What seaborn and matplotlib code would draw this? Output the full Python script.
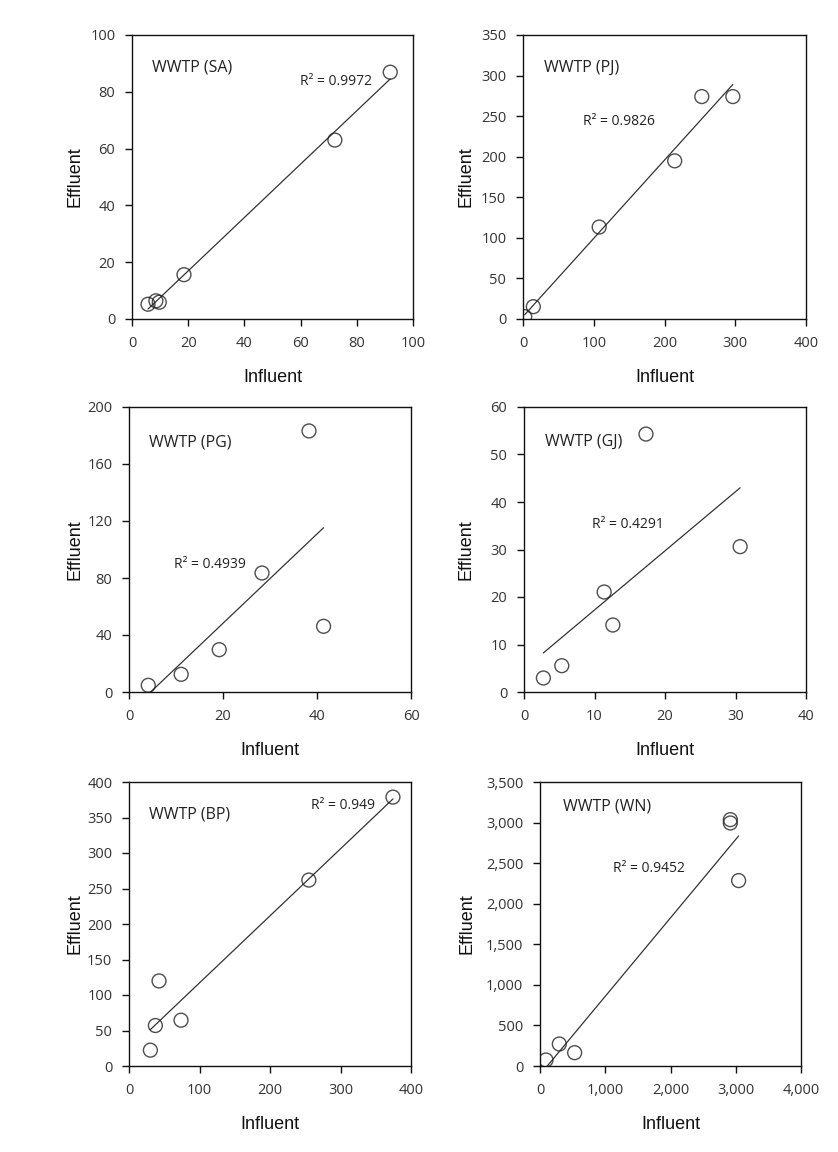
import numpy as np
import pandas as pd
import seaborn as sns
import matplotlib
matplotlib.use("Agg")
import matplotlib.pyplot as plt
from matplotlib.ticker import FuncFormatter, MultipleLocator

# ---------------- data ----------------
sa_inf = [5.7, 8.5, 9.7, 18.5, 72.2, 91.9]
sa_eff = [5.2, 6.4, 5.9, 15.6, 63.0, 86.9]

pj_inf = [2.4, 14.6, 107.7, 214.4, 252.7, 296.6]
pj_eff = [2.9, 15.2, 113.3, 194.9, 274.1, 274.1]

pg_inf = [4.1, 11.1, 19.2, 28.3, 38.3, 41.4]
pg_eff = [4.7, 12.4, 29.7, 83.5, 183.2, 46.1]

gj_inf = [2.75, 5.36, 11.37, 12.6, 17.3, 30.66]
gj_eff = [2.95, 5.54, 21.05, 14.1, 54.3, 30.6]

bp_inf = [30.3, 37.4, 42.6, 73.8, 255.1, 374.4]
bp_eff = [22.3, 57.0, 119.8, 64.5, 261.9, 378.7]

wn_inf = [92, 296, 531, 2917, 2917, 3044]
wn_eff = [74, 271, 164, 3036, 2995, 2285]

plant_names = ["WWTP (SA)", "WWTP (PJ)", "WWTP (PG)", "WWTP (GJ)", "WWTP (BP)", "WWTP (WN)"]
r2_labels = ["R\u00b2 = 0.9972", "R\u00b2 = 0.9826", "R\u00b2 = 0.4939",
             "R\u00b2 = 0.4291", "R\u00b2 = 0.949", "R\u00b2 = 0.9452"]
x_limits = [(0, 100), (0, 400), (0, 60), (0, 40), (0, 400), (0, 4000)]
y_limits = [(0, 100), (0, 350), (0, 200), (0, 60), (0, 400), (0, 3500)]
x_steps = [20, 100, 20, 10, 100, 1000]
y_steps = [20, 50, 40, 10, 50, 500]

influents = [sa_inf, pj_inf, pg_inf, gj_inf, bp_inf, wn_inf]
effluents = [sa_eff, pj_eff, pg_eff, gj_eff, bp_eff, wn_eff]

# ---------------- layout (figure fractions) ----------------
W, H = 838, 1152
boxes_px = [  # left, top, right, bottom in pixels
    (132, 35, 413, 319), (523, 35, 806, 319),
    (129, 407, 411, 692), (524, 407, 806, 692),
    (129, 782, 411, 1066), (540, 782, 801, 1066),
]
title_pos = [(0.071, 0.884), (0.074, 0.884), (0.071, 0.877),
             (0.074, 0.877), (0.071, 0.884), (0.088, 0.912)]
r2_pos = [(0.598, 0.838), (0.212, 0.694), (0.160, 0.446),
          (0.241, 0.589), (0.645, 0.919), (0.280, 0.697)]
ylab_x = [-0.174, -0.170, -0.163, -0.174, -0.163, -0.249]

sns.set_style("ticks")
plt.rcParams["font.family"] = ["Open Sans", "DejaVu Sans"]

fig = plt.figure(figsize=(W / 100, H / 100), dpi=100)
tick_col = "#333333"

for i in range(6):
    l, t, r, b = boxes_px[i]
    ax = fig.add_axes([l / W, 1 - b / H, (r - l) / W, (b - t) / H])
    df = pd.DataFrame({"Influent": influents[i], "Effluent": effluents[i]})
    sns.regplot(data=df, x="Influent", y="Effluent", ax=ax, ci=None, truncate=True,
                scatter_kws=dict(s=100, facecolors="none", edgecolors="#222222",
                                 linewidths=1.0, zorder=3),
                line_kws=dict(color="#333333", lw=0.9, zorder=2))
    ax.set_xlim(*x_limits[i])
    ax.set_ylim(*y_limits[i])
    ax.xaxis.set_major_locator(MultipleLocator(x_steps[i]))
    ax.yaxis.set_major_locator(MultipleLocator(y_steps[i]))
    if i == 5:
        fmt = FuncFormatter(lambda v, p: f"{v:,.0f}")
        ax.xaxis.set_major_formatter(fmt)
        ax.yaxis.set_major_formatter(fmt)
    for sp in ax.spines.values():
        sp.set_visible(True)
        sp.set_color("#111111")
        sp.set_linewidth(1.0)
    ax.tick_params(direction="out", length=5, width=1.0, color="#111111",
                   labelsize=10.5, labelcolor=tick_col, pad=7)
    ax.set_xlabel("Influent", fontsize=13, family=["Liberation Sans"], color="#111111")
    ax.set_ylabel("Effluent", fontsize=13, family=["Liberation Sans"], color="#111111")
    ax.xaxis.set_label_coords(0.5, -0.175)
    ax.yaxis.set_label_coords(ylab_x[i], 0.5)
    ax.text(title_pos[i][0], title_pos[i][1], plant_names[i], transform=ax.transAxes,
            fontsize=11.5, color="#222222", ha="left", va="center")
    ax.text(r2_pos[i][0], r2_pos[i][1], r2_labels[i], transform=ax.transAxes,
            fontsize=10, color="#222222", ha="left", va="center")

fig.savefig("out.png", dpi=100, facecolor="white")
